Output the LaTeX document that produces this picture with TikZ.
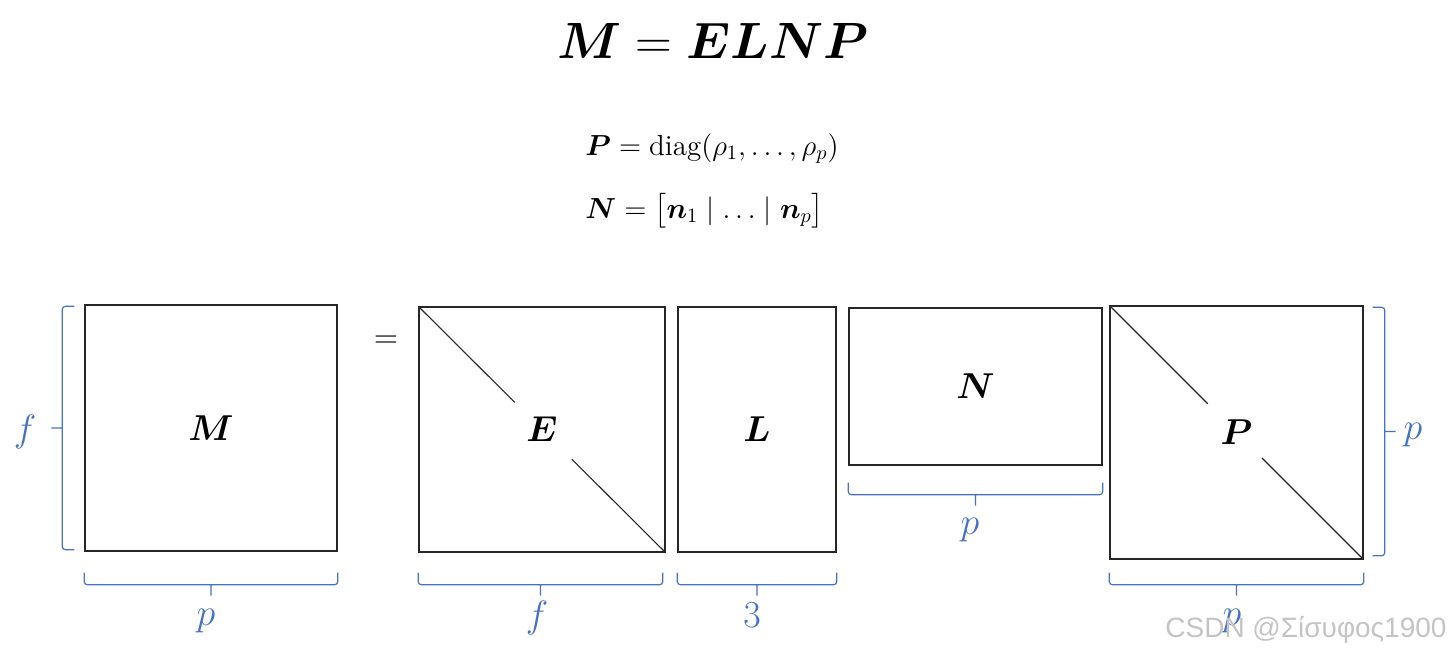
\RequirePackage{fix-cm}
\documentclass[tikz,border=0pt]{standalone}
\usepackage{amsmath,amssymb}
\usepackage{fontspec}
\usepackage{bm}
\usetikzlibrary{calc}
\definecolor{ink}{HTML}{262626}
\definecolor{dimblue}{HTML}{4472C4}
\definecolor{wmgray}{HTML}{C4C4C4}
\newfontfamily\wmfont{Liberation Sans}
\tikzset{
  matbox/.style={draw=ink, line width=0.7pt, inner sep=0pt,
                 font=\fontsize{18}{20}\selectfont},
  diagline/.style={draw=ink, line width=0.55pt},
  % flat bracket with a tick in the middle, opening to the left of its direction
  dimbracket/.style={draw=dimblue, line width=0.6pt, rounded corners=1.5pt,
    to path={-- ($(\tikztostart)!6pt!90:(\tikztotarget)$)
             -- ($(\tikztotarget)!6pt!-90:(\tikztostart)$)
             -- (\tikztotarget)
             ($(\tikztostart)!0.5!(\tikztotarget)!6pt!90:(\tikztotarget)$)
             -- ($(\tikztostart)!0.5!(\tikztotarget)!11.5pt!90:(\tikztotarget)$)}},
  dimlabel/.style={text=dimblue, inner sep=0pt,
                   font=\fontsize{19}{22}\selectfont},
  eqline/.style={inner sep=0pt, anchor=base west,
                 font=\fontsize{14.5}{17}\selectfont}
}

\begin{document}
\begin{tikzpicture}[x=0.5pt,y=-0.5pt]
  \useasboundingbox (0,0) rectangle (1452,655);

  % heading and definitions
  \node[inner sep=0pt, anchor=base, font=\fontsize{25.5}{30}\selectfont]
    (title) at (713,58) {$\bm{M} = \bm{E}\bm{L}\bm{N}\bm{P}$};
  \node[eqline] (defP) at (585,155)
    {$\bm{P} = \operatorname{diag}(\rho_1, \ldots, \rho_p)$};
  \node[eqline] (defN) at (585,218)
    {$\bm{N} = \big[\bm{n}_1 \mid \ldots \mid \bm{n}_p\big]$};

  % the matrices
  \node[matbox, minimum width=126pt, minimum height=123pt] (M) at (211,428) {$\bm{M}$};
  \node[inner sep=0pt, font=\fontsize{16}{18}\selectfont] (eq) at (386,342) {$=$};
  \node[matbox, minimum width=123pt, minimum height=122.5pt] (E) at (542,429.5) {$\bm{E}$};
  \node[matbox, minimum width=79pt, minimum height=122.5pt] (L) at (757,429.5) {$\bm{L}$};
  \node[matbox, minimum width=126.5pt, minimum height=78.5pt] (N) at (975.5,386.5) {$\bm{N}$};
  \node[matbox, minimum width=126.5pt, minimum height=126.5pt] (P) at (1236.5,432.5) {$\bm{P}$};

  % diagonals, broken round the letter
  \draw[diagline] (E.north west) -- ($(E.north west)!0.39!(E.south east)$);
  \draw[diagline] ($(E.north west)!0.62!(E.south east)$) -- (E.south east);
  \draw[diagline] (P.north west) -- ($(P.north west)!0.387!(P.south east)$);
  \draw[diagline] ($(P.north west)!0.60!(P.south east)$) -- (P.south east);

  % sizes
  \draw[dimbracket] ([xshift=-5pt,yshift=1pt]M.south west) to ([xshift=-5pt,yshift=-1pt]M.north west);
  \draw[dimbracket] ([yshift=-10.5pt]M.south east) to ([yshift=-10.5pt]M.south west);
  \draw[dimbracket] ([xshift=-1.5pt,yshift=-10pt]E.south east) to ([yshift=-10pt]E.south west);
  \draw[dimbracket] ([yshift=-10pt]L.south east) to ([yshift=-10pt]L.south west);
  \draw[dimbracket] ([yshift=-8.5pt]N.south east) to ([yshift=-8.5pt]N.south west);
  \draw[dimbracket] ([yshift=-6.5pt]P.south east) to ([yshift=-6.5pt]P.south west);
  \draw[dimbracket] ([xshift=4.5pt,yshift=-1pt]P.north east) to ([xshift=4.5pt,yshift=2pt]P.south east);

  \node[dimlabel] (Mrows) at (25,432) {$f$};
  \node[dimlabel] (Mcols) at (206,621) {$p$};
  \node[dimlabel] (Ecols) at (537,618) {$f$};
  \node[dimlabel] (Lcols) at (752,615) {$3$};
  \node[dimlabel] (Ncols) at (970,530) {$p$};
  \node[dimlabel] (Pcols) at (1232,621) {$p$};
  \node[dimlabel] (Prows) at (1413,435) {$p$};

  \node[text=wmgray, inner sep=0pt, anchor=base west, font=\wmfont\fontsize{14}{16}\selectfont]
    (mark) at (1165,637) {CSDN @Σίσυφος1900};
\end{tikzpicture}
\end{document}
